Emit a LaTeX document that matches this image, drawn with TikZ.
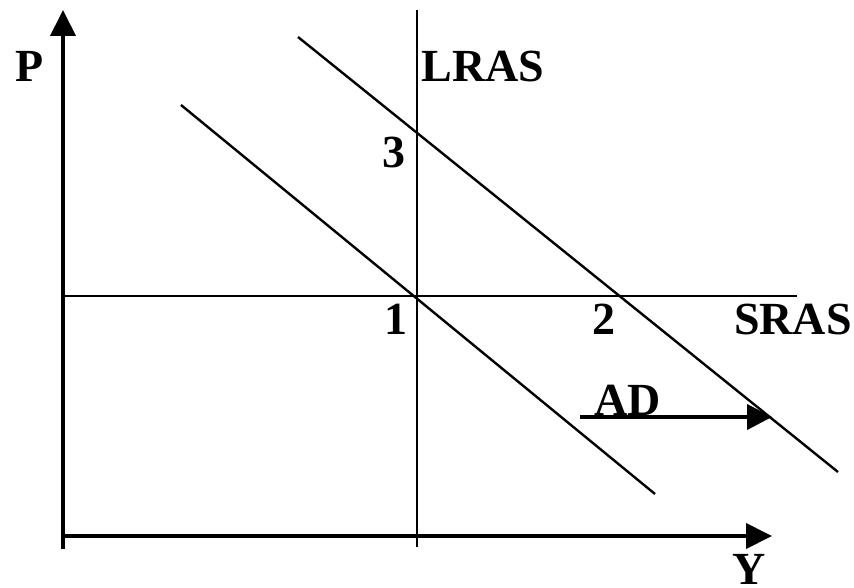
\documentclass[tikz,border=0pt]{standalone}
\usepackage{fontspec}
\setmainfont{Liberation Serif}
\usetikzlibrary{arrows.meta}
\begin{document}
\begin{tikzpicture}[x=1pt,y=-1pt,
  axis/.style={line width=4pt,-{Triangle[length=26pt,width=25pt]}},
  curve/.style={line width=2.4pt},
  shiftarrow/.style={line width=4pt,-{Triangle[length=25pt,width=25pt]}},
  lbl/.style={inner sep=0pt,font=\fontsize{46}{50}\selectfont\bfseries}]
\useasboundingbox (0,0) rectangle (854,588);
% axes
\coordinate (ybot) at (63,549);
\coordinate (ytop) at (63,10);
\coordinate (xo) at (61,536);
\coordinate (xend) at (772,536);
\draw[axis] (ybot) -- (ytop);
\draw[axis] (xo) -- (xend);
% LRAS and SRAS
\coordinate (lrasb) at (417,547);
\coordinate (lrast) at (417,10);
\draw[curve] (lrasb) -- (lrast);
\coordinate (srasl) at (63,296);
\coordinate (srasr) at (797,296);
\draw[curve] (srasl) -- (srasr);
% AD curves
\coordinate (ad1a) at (181,105);
\coordinate (ad1b) at (655,494);
\draw[curve] (ad1a) -- (ad1b);
\coordinate (ad2a) at (298,37);
\coordinate (ad2b) at (838,472);
\draw[curve] (ad2a) -- (ad2b);
% AD shift arrow
\coordinate (sa) at (580,417);
\coordinate (sb) at (772,417);
\draw[shiftarrow] (sa) -- (sb);
% labels
\node[lbl] (P) at (29.5,66) {P};
\node[lbl] (LRAS) at (483,66) {LRAS};
\node[lbl] (three) at (394,152) {3};
\node[lbl] (one) at (396,319) {1};
\node[lbl] (two) at (604,319) {2};
\node[lbl] (SRAS) at (793,319) {SRAS};
\node[lbl] (AD) at (628,400) {AD};
\node[lbl] (Y) at (749,569) {Y};
\end{tikzpicture}
\end{document}
